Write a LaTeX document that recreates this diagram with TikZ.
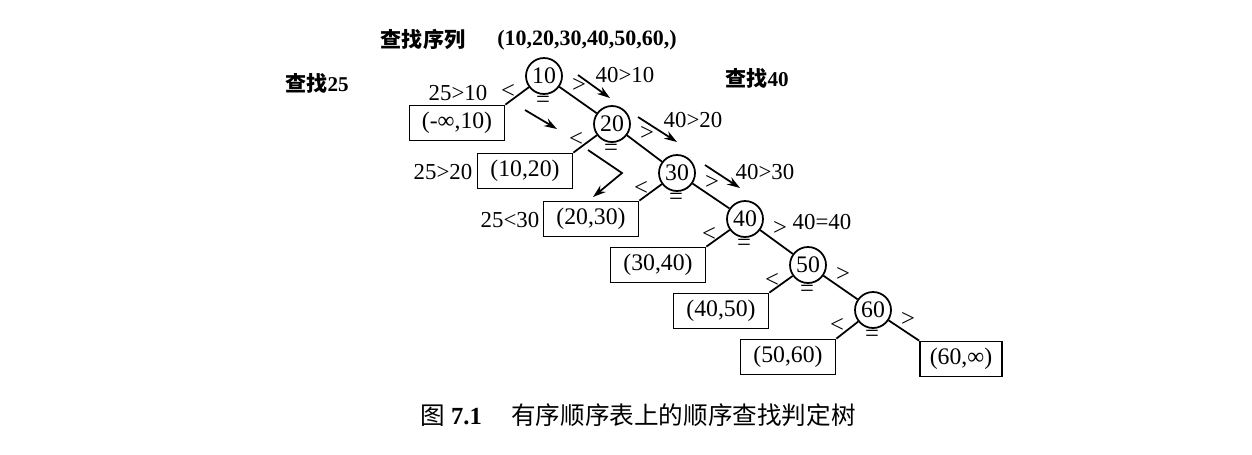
\documentclass[tikz,border=0pt]{standalone}
\usepackage{fontspec}
\setmainfont{Liberation Serif}
\newfontfamily\cjk{Noto Sans CJK SC}
\usetikzlibrary{arrows.meta,positioning,calc}
\tikzset{
  key/.style={draw, circle, line width=1pt, minimum size=0.72cm, inner sep=0pt, font=\fontsize{13.5}{13.5}\selectfont},
  gap/.style={draw, rectangle, line width=1pt, minimum width=1.9cm, minimum height=0.7cm, inner sep=1pt, font=\fontsize{13.5}{13.5}\selectfont},
  cmp/.style={font=\fontsize{13}{13}\selectfont, inner sep=1pt},
  sym/.style={font=\fontsize{14}{14}\selectfont, inner sep=0pt},
  tag/.style={font=\bfseries\fontsize{12}{12}\selectfont, inner sep=1pt},
  edge/.style={line width=1pt},
  arr/.style={-{Stealth[length=2.6mm,width=1.7mm]}, line width=1pt},
}
\begin{document}
\begin{tikzpicture}[x=0.02cm, y=-0.02cm]
\useasboundingbox (0,0) rectangle (1252,454);
% headings
\node[tag] (seqlbl) at (423,39) {{\cjk 查找序列}};
\node[tag, font=\bfseries\fontsize{12.5}{12.5}\selectfont] (seq) at (587,40) {(10,20,30,40,50,60,)};
\node[tag] (find25) at (317,83) {{\cjk 查找}25};
\node[tag] (find40) at (757,78) {{\cjk 查找}40};
% keys
\node[key] (c10) at (544,76) {10};
\node[key] (c20) at (612,124) {20};
\node[key] (c30) at (677,173) {30};
\node[key] (c40) at (745,219) {40};
\node[key] (c50) at (808,265) {50};
\node[key] (c60) at (873,310) {60};
% failure intervals
\node[gap] (b0) at (457,123) {(-∞,10)};
\node[gap] (b1) at (525,171) {(10,20)};
\node[gap] (b2) at (591,219) {(20,30)};
\node[gap] (b3) at (658,265) {(30,40)};
\node[gap] (b4) at (721,311) {(40,50)};
\node[gap] (b5) at (788,357) {(50,60)};
\node[gap, minimum width=1.64cm] (b6) at (961,359) {(60,∞)};
\draw[edge] (c10) -- (c20);
\draw[edge] (c20) -- (c30);
\draw[edge] (c30) -- (c40);
\draw[edge] (c40) -- (c50);
\draw[edge] (c50) -- (c60);
\draw[edge] (c10) -- (b0.north east);
\draw[edge] (c20) -- (b1.north east);
\draw[edge] (c30) -- (b2.north east);
\draw[edge] (c40) -- (b3.north east);
\draw[edge] (c50) -- (b4.north east);
\draw[edge] (c60) -- (b5.north east);
\draw[edge] (c60) -- (b6.north west);
\foreach \n in {10,20,30,40,50,60}{
  \node[sym] (lt\n) at ($(c\n)+(-36,15)$) {<};
  \node[sym] (gt\n) at ($(c\n)+(35,9)$) {>};
  \node[sym] (eq\n) at ($(c\n)+(-1,26)$) {=};
}
% comparisons
\node[cmp] (q1) at (458,93) {25>10};
\node[cmp] (q2) at (443,172) {25>20};
\node[cmp] (q3) at (510,220) {25<30};
\node[cmp] (p1) at (625,75) {40>10};
\node[cmp] (p2) at (693,120) {40>20};
\node[cmp] (p3) at (765,172) {40>30};
\node[cmp] (p4) at (822,222) {40=40};
% search paths
\coordinate (a1s) at (578,75);  \coordinate (a1e) at (610,98);
\coordinate (a2s) at (638,117); \coordinate (a2e) at (677,142);
\coordinate (a3s) at (705,165); \coordinate (a3e) at (740,188);
\coordinate (l1s) at (525,110); \coordinate (l1e) at (557,129);
\coordinate (l2s) at (588,150); \coordinate (l2m) at (622,173); \coordinate (l2e) at (593,197);
\draw[arr] (a1s) -- (a1e);
\draw[arr] (a2s) -- (a2e);
\draw[arr] (a3s) -- (a3e);
\draw[arr] (l1s) -- (l1e);
\draw[arr] (l2s) -- (l2m) -- (l2e);
% caption
\node[font=\fontsize{14}{14}\selectfont] (cap) at (638,415) {{\cjk 图} \textbf{7.1}\hspace{1.2em}{\cjk 有序顺序表上的顺序查找判定树}};
\end{tikzpicture}
\end{document}
